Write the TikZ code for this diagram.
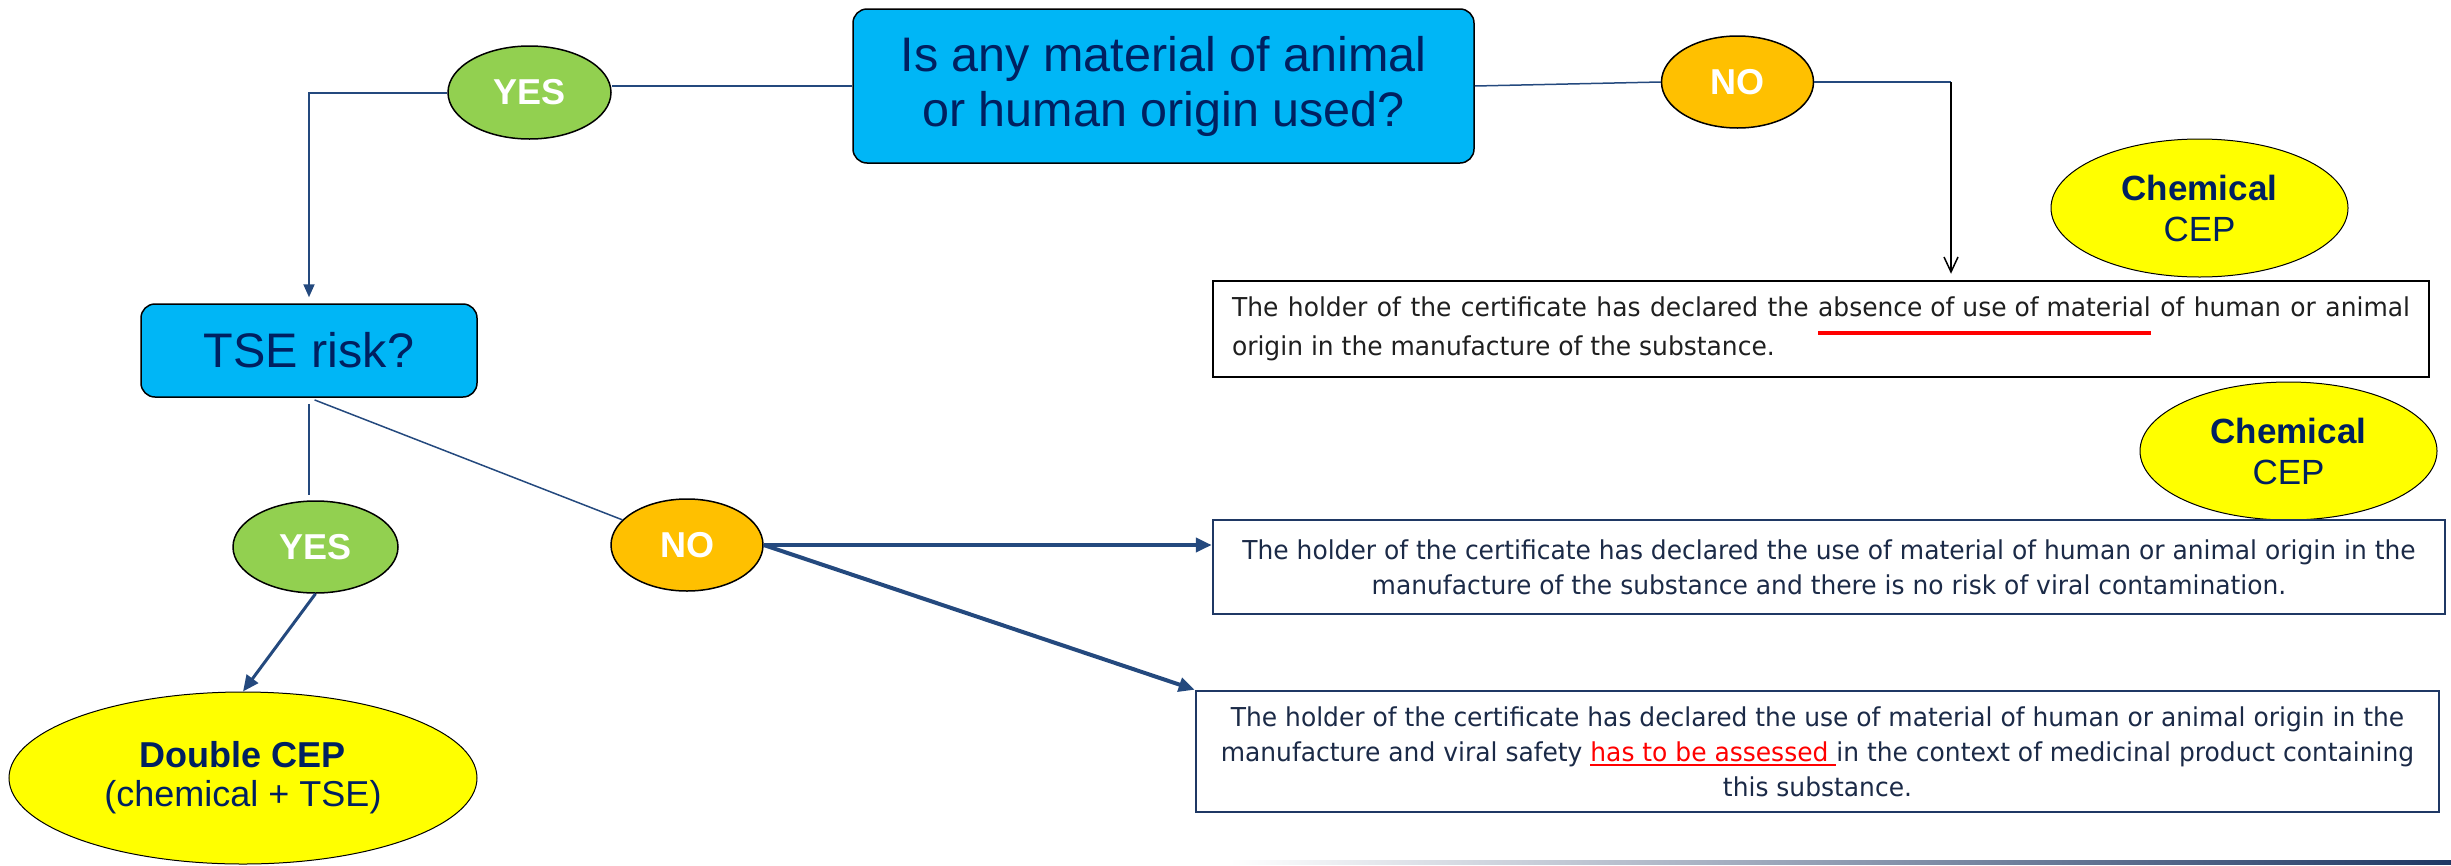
\documentclass[tikz,border=0pt]{standalone}
\usepackage{fontspec}
\setmainfont{Liberation Sans}
\newfontfamily\caixafonte[FakeStretch=0.96]{DejaVu Sans}
\usetikzlibrary{shapes.geometric,arrows.meta}

\definecolor{azulcaixa}{HTML}{00B6F6}
\definecolor{verdesim}{HTML}{92D050}
\definecolor{laranjanao}{HTML}{FFC000}
\definecolor{amarelocep}{HTML}{FFFF00}
\definecolor{azulescuro}{HTML}{002060}
\definecolor{azullinha}{HTML}{24497E}
\definecolor{azulborda}{HTML}{1F3864}
\definecolor{textocaixa}{HTML}{1B2A47}

% sublinhados das caixas
\newcommand\riscovermelho[1]{\setbox0=\hbox{#1}\rlap{\color{red}\rule[-18pt]{\wd0}{4pt}}\box0\relax}
\newcommand\avaliar[1]{\setbox0=\hbox{\textcolor{red}{#1}}\rlap{\textcolor{red}{\rule[-5pt]{\wd0}{2pt}}}\box0\relax}

\begin{document}
\begin{tikzpicture}[x=1pt, y=-1pt,
      pergunta/.style={rectangle, rounded corners=14pt, draw=black, line width=1.5pt, fill=azulcaixa,
        text=azulescuro, font=\fontsize{48.5}{55}\selectfont, align=center, inner sep=0pt},
      sim/.style={ellipse, draw=black, line width=1.5pt, fill=verdesim, text=white,
        font=\fontsize{36}{40}\selectfont\bfseries, minimum width=163pt, minimum height=93pt, inner sep=0pt},
      nao/.style={sim, fill=laranjanao, minimum width=152pt, minimum height=92pt},
      cep/.style={ellipse, draw=black, line width=1pt, fill=amarelocep, text=azulescuro,
        align=center, inner sep=0pt},
      caixa/.style={rectangle, draw=azulborda, line width=2.5pt, text=textocaixa,
        font=\caixafonte\fontsize{26}{35}\selectfont, align=center, inner sep=0pt},
      fio/.style={draw=azullinha, line width=1.5pt},
      seta/.style={fio, line width=3pt, -{Triangle[length=16pt,width=14pt]}}]

    \useasboundingbox (0,0) rectangle (2451,865);

    % 1. perguntas e respostas
    \node[pergunta, minimum width=621pt, minimum height=154pt] (q1) at (1163.5,86)
      {Is any material of animal\\or human origin used?};
    \node[pergunta, minimum width=336pt, minimum height=93pt] (tse) at (309,350.5) {TSE risk?};

    \node[sim] (sim1) at (529.5,92.5) {YES};
    \node[nao] (nao1) at (1737.5,82) {NO};
    \node[sim, minimum width=165pt, minimum height=92pt] (sim2) at (315.5,547) {YES};
    \node[nao] (nao2) at (687,545) {NO};

    % 2. tipos de CEP
    \node[cep, minimum width=297pt, minimum height=138pt, font=\fontsize{35}{41}\selectfont] (cep1) at (2199.5,208)
      {\textbf{Chemical}\\CEP};
    \node[cep, minimum width=297pt, minimum height=138pt, font=\fontsize{35}{41}\selectfont] (cep2) at (2288.5,451)
      {\textbf{Chemical}\\CEP};
    \node[cep, minimum width=468pt, minimum height=172pt, font=\fontsize{36}{39}\selectfont] (dupla) at (243,778)
      {\textbf{Double CEP}\\(chemical + TSE)};

    % 3. declarações
    \node[caixa, draw=black, text=black!88, minimum width=1216pt, minimum height=96pt,
      text width=1178pt, align=justify] (cx1) at (1821,329)
      {The holder of the certificate has declared the \riscovermelho{absence of use of material} of human or animal\linebreak
       origin in the manufacture of the substance.};
    \node[caixa, minimum width=1232pt, minimum height=94pt] (cx2) at (1829,567)
      {The holder of the certificate has declared the use of material of human or animal origin in the\\
       manufacture of the substance and there is no risk of viral contamination.};
    \node[caixa, minimum width=1243pt, minimum height=121pt] (cx3) at (1817.5,751.5)
      {The holder of the certificate has declared the use of material of human or animal origin in the\\
       manufacture and viral safety \avaliar{has to be assessed\ }in the context of medicinal product containing\\
       this substance.};

    % 4. ligações
    \coordinate (canto) at (1951,82);
    \draw[fio] (q1.west) -- (q1.west -| sim1.east);
    \draw[fio, line width=2pt, -{Triangle[length=13pt,width=11pt]}, shorten >=6pt] (sim1.west) -| (tse.north);
    \draw[fio] (q1.east) -- (nao1.west);
    \draw[fio] (nao1.east) -- (canto);
    \draw[black, line width=1.5pt, -{Straight Barb[length=15pt,width=14pt]}, shorten >=6pt] (canto) -- (canto |- cx1.north);

    \draw[fio, shorten <=6pt, shorten >=5pt] (tse.south) -- (tse.south |- sim2.north);
    \draw[fio, shorten <=6pt] (tse.south) -- (nao2);
    \draw[seta] (sim2.south) -- (dupla.north);
    \draw[seta, line width=4pt] (nao2.east) -- (nao2.east -| cx2.west);
    \draw[seta, line width=4pt] (nao2.east) -- (cx3.north west);

    % 5. linha decorativa
    \shade[left color=white, right color=azulborda] (1230,860) rectangle (2451,864);

\end{tikzpicture}
\end{document}
